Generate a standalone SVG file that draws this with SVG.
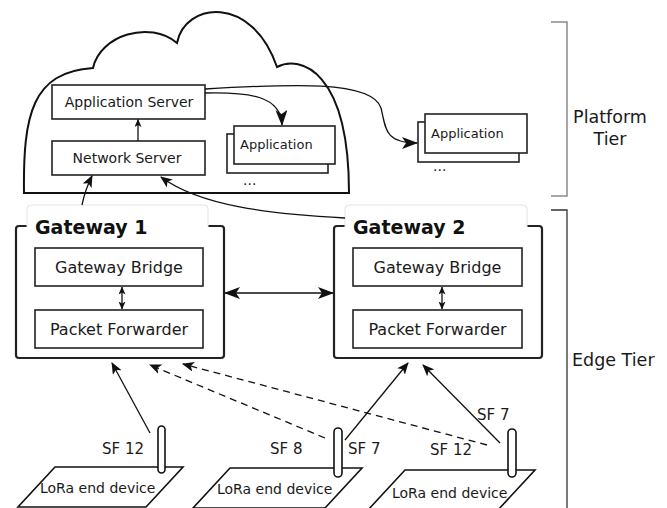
<svg xmlns="http://www.w3.org/2000/svg" width="667" height="508" viewBox="0 0 667 508">
  <style>
    .t { font-family: "DejaVu Sans", Verdana, sans-serif; font-size: 14px; fill: #1a1a1a; }
    .app { font-family: "DejaVu Sans", Verdana, sans-serif; font-size: 13px; fill: #1a1a1a; }
    .gw { font-family: "DejaVu Sans", Verdana, sans-serif; font-size: 16px; fill: #1a1a1a; }
    .sf { font-family: "DejaVu Sans", Verdana, sans-serif; font-size: 15px; fill: #1a1a1a; }
    .title { font-family: "DejaVu Sans", Verdana, sans-serif; font-size: 19px; font-weight: bold; fill: #111; }
    .tier { font-family: "DejaVu Sans", Verdana, sans-serif; font-size: 17.5px; fill: #1a1a1a; }
    .box { fill: #fff; stroke: #222; stroke-width: 1.6; }
    .frame { fill: #fff; stroke: #222; stroke-width: 2.2; }
    .label { fill: #fff; stroke: #e4e4e4; stroke-width: 1; }
    .line { fill: none; stroke: #111; stroke-width: 1.3; }
    .dash { fill: none; stroke: #111; stroke-width: 1.3; stroke-dasharray: 7 5; }
    .dev { fill: #fff; stroke: #111; stroke-width: 1.6; }
    .ant { fill: #fff; stroke: #111; stroke-width: 1.6; }
  </style>
  <defs>
    <marker id="ah" viewBox="0 0 12 10" refX="11" refY="5" markerWidth="12" markerHeight="10" markerUnits="userSpaceOnUse" orient="auto-start-reverse">
      <path d="M0,0 L12,5 L0,10 L3,5 Z" fill="#111"/>
    </marker>
    <marker id="ahl" viewBox="0 0 16 12" refX="15" refY="6" markerWidth="16" markerHeight="12" markerUnits="userSpaceOnUse" orient="auto-start-reverse">
      <path d="M0,0 L16,6 L0,12 L4,6 Z" fill="#111"/>
    </marker>
    <marker id="ahs" viewBox="0 0 8 7" refX="7.5" refY="3.5" markerWidth="8" markerHeight="7" markerUnits="userSpaceOnUse" orient="auto-start-reverse">
      <path d="M0,0 L8,3.5 L0,7 L2,3.5 Z" fill="#111"/>
    </marker>
  </defs>

  <!-- tier brackets -->
  <g id="platform-tier">
    <path d="M551,22 H567 V196 H551" fill="none" stroke="#8a8a8a" stroke-width="1.5"/>
    <text class="tier" x="610" y="123" text-anchor="middle">Platform</text>
    <text class="tier" x="610" y="145" text-anchor="middle">Tier</text>
  </g>
  <g id="edge-tier">
    <path d="M551,210 H567 V508" fill="none" stroke="#333" stroke-width="1.3"/>
    <text class="tier" x="572" y="366">Edge Tier</text>
  </g>

  <!-- cloud -->
  <g id="cloud">
    <path d="M24,193 C23,115 32,72 93,68 C100,35 150,20 177,43 C185,2 252,-6 277,67 C300,55 349,70 349,193 Z" fill="#fff" stroke="#111" stroke-width="2"/>
  </g>

  <g id="application-server">
    <rect class="box" x="52" y="85" width="153" height="34"/>
    <text class="t" x="129" y="107" text-anchor="middle">Application Server</text>
  </g>
  <g id="network-server">
    <rect class="box" x="52" y="141" width="153" height="34"/>
    <text class="t" x="127" y="163" text-anchor="middle" font-size="14.5">Network Server</text>
  </g>
  <g id="application-cloud">
    <rect class="box" x="227" y="134" width="101" height="39"/>
    <rect class="box" x="234" y="126" width="101" height="38"/>
    <text class="app" x="240" y="149">Application</text>
    <text class="t" x="243" y="185">...</text>
  </g>
  <g id="application-external">
    <rect class="box" x="418" y="122" width="101" height="40"/>
    <rect class="box" x="425" y="114" width="102" height="39"/>
    <text class="app" x="431" y="138">Application</text>
    <text class="t" x="433" y="171">...</text>
  </g>

  <!-- gateways -->
  <g id="gateway-1">
    <rect class="frame" x="16" y="226" width="208" height="132" rx="3"/>
    <path class="label" d="M27,227 V209 Q27,205 31,205 H204 Q208,205 208,209 V227"/>
    <text class="title" x="35" y="234">Gateway 1</text>
    <rect class="box" x="35" y="248" width="168" height="38"/>
    <text class="gw" x="119" y="273" text-anchor="middle">Gateway Bridge</text>
    <rect class="box" x="35" y="310" width="168" height="38"/>
    <text class="gw" x="119" y="335" text-anchor="middle">Packet Forwarder</text>
  </g>
  <g id="gateway-2">
    <rect class="frame" x="334" y="226" width="208" height="132" rx="3"/>
    <path class="label" d="M345,227 V209 Q345,205 349,205 H523 Q527,205 527,209 V227"/>
    <text class="title" x="353" y="234">Gateway 2</text>
    <rect class="box" x="353" y="248" width="169" height="38"/>
    <text class="gw" x="437.5" y="273" text-anchor="middle">Gateway Bridge</text>
    <rect class="box" x="353" y="310" width="169" height="38"/>
    <text class="gw" x="437.5" y="335" text-anchor="middle">Packet Forwarder</text>
  </g>

  <!-- end devices -->
  <g id="device-1">
    <path class="dev" d="M55,467 H183 L146,507 H18 Z"/>
    <text class="t" x="40" y="493" font-size="14.5">LoRa end device</text>
    <rect class="ant" x="158" y="426" width="7" height="47" rx="3.5"/>
    <text class="sf" x="102" y="454">SF 12</text>
  </g>
  <g id="device-2">
    <path class="dev" d="M230,468 H362 L325,508 H193 Z"/>
    <text class="t" x="217" y="494" font-size="14.5">LoRa end device</text>
    <rect class="ant" x="334" y="428" width="8" height="49" rx="4"/>
    <text class="sf" x="270" y="454">SF 8</text>
    <text class="sf" x="348" y="454">SF 7</text>
  </g>
  <g id="device-3">
    <path class="dev" d="M405,470 H535 L498,510 H368 Z"/>
    <text class="t" x="392" y="498" font-size="14.5">LoRa end device</text>
    <rect class="ant" x="508" y="429" width="8" height="48" rx="4"/>
    <text class="sf" x="430" y="455">SF 12</text>
    <text class="sf" x="477" y="420">SF 7</text>
  </g>

  <!-- connectors -->
  <g id="connectors">
    <line class="line" x1="138" y1="141" x2="138" y2="119.5" marker-end="url(#ahs)"/>
    <path class="line" d="M205,93 C250,92 281,96 282,125" marker-end="url(#ahl)"/>
    <path class="line" d="M205,89 C290,84 372,80 381,108 C386,128 384,143 417,143" marker-end="url(#ahl)"/>
    <path class="line" d="M82,205 C84,195 87,186 92,176" marker-end="url(#ah)"/>
    <path class="line" d="M345,218 C270,214 200,206 161,177" marker-end="url(#ah)"/>
    <line class="line" x1="122" y1="287" x2="122" y2="309" marker-start="url(#ahs)" marker-end="url(#ahs)"/>
    <line class="line" x1="442" y1="287" x2="442" y2="309" marker-start="url(#ahs)" marker-end="url(#ahs)"/>
    <line class="line" x1="225" y1="293" x2="333" y2="293" marker-start="url(#ahl)" marker-end="url(#ahl)"/>
    <line class="line" x1="150" y1="433" x2="112" y2="363" marker-end="url(#ah)"/>
    <line class="dash" x1="325" y1="438" x2="150" y2="365" marker-end="url(#ah)"/>
    <line class="dash" x1="487" y1="445" x2="183" y2="364" marker-end="url(#ah)"/>
    <line class="line" x1="345" y1="440" x2="408" y2="363" marker-end="url(#ah)"/>
    <line class="line" x1="500" y1="443" x2="423" y2="365" marker-end="url(#ah)"/>
  </g>
</svg>
